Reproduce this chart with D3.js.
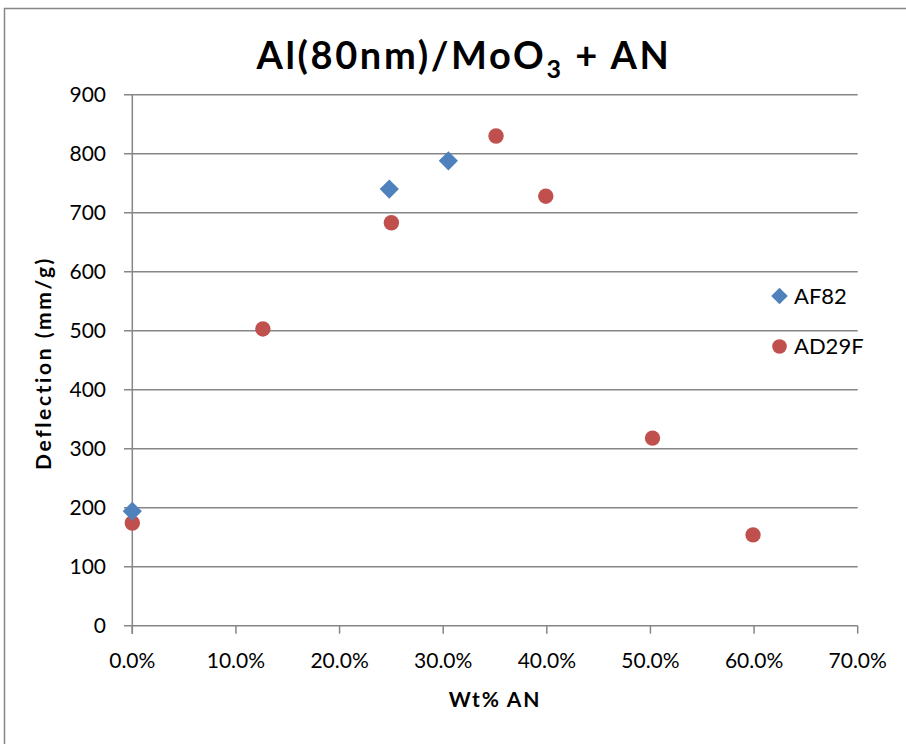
<!DOCTYPE html>
<html><head><meta charset="utf-8">
<script src="https://cdn.jsdelivr.net/npm/d3@7/dist/d3.min.js"></script>
<style>body{margin:0;background:#fff}svg{display:block}text{font-family:Lato,"Open Sans",sans-serif}</style>
</head><body>
<script>
const af82X = [0.0, 0.248, 0.305];
const af82Y = [194, 740, 788];
const ad29fX = [0.0, 0.126, 0.250, 0.351, 0.399, 0.502, 0.599];
const ad29fY = [174, 503, 683, 830, 728, 318, 154];
const yTicks = [0,100,200,300,400,500,600,700,800,900];
const xTicks = [0,0.1,0.2,0.3,0.4,0.5,0.6,0.7];
const seriesNames = ["AF82","AD29F"];
const colors = ["#4F81BD","#C0504D"];

const W=906,H=744;
const svg=d3.select("body").append("svg").attr("width",W).attr("height",H);
svg.append("rect").attr("x",4.5).attr("y",8.5).attr("width",W).attr("height",H).attr("fill","#fff").attr("stroke","#868686").attr("stroke-width",1.5);

const x=d3.scaleLinear().domain([0,0.7]).range([132.3,857.7]);
const y=d3.scaleLinear().domain([0,900]).range([625.7,94.7]);
const grid="#868686";

svg.append("g").selectAll("line").data(yTicks).join("line")
  .attr("x1",124).attr("x2",857.7).attr("y1",d=>y(d)).attr("y2",d=>y(d))
  .attr("stroke",grid).attr("stroke-width",1.5);
svg.append("line").attr("x1",x(0)).attr("x2",x(0)).attr("y1",y(900)).attr("y2",y(0)+8).attr("stroke",grid).attr("stroke-width",1.5);
svg.append("g").selectAll("line").data(xTicks).join("line")
  .attr("x1",d=>x(d)).attr("x2",d=>x(d)).attr("y1",y(0)).attr("y2",y(0)+8)
  .attr("stroke",grid).attr("stroke-width",1.5);
svg.append("g").selectAll("text").data(yTicks).join("text")
  .attr("x",106).attr("y",d=>y(d)).attr("dy","0.36em").attr("text-anchor","end")
  .attr("font-size",21).attr("fill","#000").text(d=>d);
const pf=d3.format(".1%");
svg.append("g").selectAll("text").data(xTicks).join("text")
  .attr("x",d=>x(d)).attr("y",668).attr("text-anchor","middle")
  .attr("font-size",21).attr("fill","#000").text(d=>pf(d));

const t=svg.append("text").attr("x",464).attr("y",69).attr("text-anchor","middle").attr("font-size",38).attr("font-weight","bold").attr("letter-spacing",2.6);
t.append("tspan").text("Al(80nm)/MoO");
t.append("tspan").attr("font-size",25).attr("dy",9).text("3");
t.append("tspan").attr("dy",-9).text(" + AN");
svg.append("text").attr("x",495).attr("y",707).attr("text-anchor","middle").attr("font-size",21).attr("font-weight","bold").attr("letter-spacing",1.8).text("Wt% AN");
svg.append("text").attr("transform","translate(51,363) rotate(-90)").attr("text-anchor","middle").attr("font-size",21).attr("font-weight","bold").attr("letter-spacing",2.6).text("Deflection (mm/g)");

const diamondPath=r=>`M0,${-r}L${r},0L0,${r}L${-r},0Z`;
const af=af82X.map((v,i)=>({x:v,y:af82Y[i]}));
const ad=ad29fX.map((v,i)=>({x:v,y:ad29fY[i]}));
svg.append("g").selectAll("circle").data(ad).join("circle")
  .attr("cx",d=>x(d.x)).attr("cy",d=>y(d.y)).attr("r",7.7).attr("fill",colors[1]);
svg.append("g").selectAll("path").data(af).join("path")
  .attr("transform",d=>`translate(${x(d.x)},${y(d.y)})`).attr("d",diamondPath(9.6)).attr("fill",colors[0]);

const lg=svg.append("g");
lg.append("path").attr("transform","translate(779.5,296)").attr("d",diamondPath(8.3)).attr("fill",colors[0]);
lg.append("circle").attr("cx",779.5).attr("cy",346.5).attr("r",7.3).attr("fill",colors[1]);
lg.selectAll("text").data(seriesNames).join("text").attr("x",794).attr("y",(d,i)=>296+i*50.5).attr("dy","0.36em").attr("font-size",22).text(d=>d);
</script>
</body></html>
